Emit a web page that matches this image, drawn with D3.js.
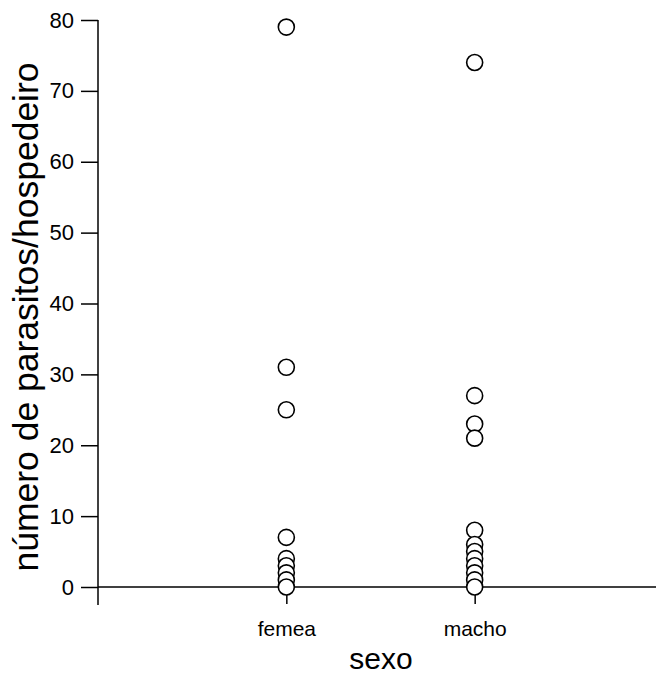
<!DOCTYPE html>
<html>
<head>
<meta charset="utf-8">
<script src="https://cdn.jsdelivr.net/npm/d3@7"></script>
<style>
html,body{margin:0;padding:0;background:#fff;}
svg{display:block;font-family:Arial,"Liberation Sans",sans-serif;}
</style>
</head>
<body>
<svg id="chart" width="656" height="677"></svg>
<script>
const categories = ["femea", "macho"];
const femeaValues = [79, 31, 25, 7, 4, 3, 2, 1, 0];
const machoValues = [74, 27, 23, 21, 8, 6, 5, 4, 3, 2, 1, 0];
const yTicks = [0, 10, 20, 30, 40, 50, 60, 70, 80];
const xLabel = "sexo";
const yLabel = "número de parasitos/hospedeiro";

const series = [femeaValues, machoValues];
const points = [];
series.forEach((vals, i) => vals.forEach(v => points.push({cat: i + 1, v})));

const svg = d3.select("#chart");
const x = d3.scaleLinear().domain([0, 3]).range([98, 663]);
const y = d3.scaleLinear().domain([0, 80]).range([587, 20]);
const FONT = "Arial, 'Liberation Sans', sans-serif";

// Y axis
const yAxis = d3.axisLeft(y).tickValues(yTicks).tickSize(17).tickPadding(7).tickSizeOuter(0);
const gy = svg.append("g").attr("transform", `translate(${x(0)},0)`).call(yAxis);
gy.select(".domain").remove();
gy.append("line").attr("x1", 0).attr("x2", 0).attr("y1", y(80)).attr("y2", y(0) + 18)
  .attr("stroke", "#000").attr("stroke-width", 1.5);
gy.selectAll(".tick line").attr("stroke", "#000").attr("stroke-width", 1.5);
gy.selectAll(".tick text").attr("fill", "#000").style("font-size", "22px").style("font-family", FONT);

// X axis
const xAxis = d3.axisBottom(x).tickValues([1, 2]).tickFormat(d => categories[d - 1])
  .tickSize(17).tickPadding(17).tickSizeOuter(0);
const gx = svg.append("g").attr("transform", `translate(0,${y(0)})`).call(xAxis);
gx.select(".domain").remove();
gx.append("line").attr("x1", x(0)).attr("x2", x(3)).attr("y1", 0).attr("y2", 0)
  .attr("stroke", "#000").attr("stroke-width", 1.5);
gx.selectAll(".tick line").attr("stroke", "#000").attr("stroke-width", 1.5);
gx.selectAll(".tick text").attr("fill", "#000").style("font-size", "21px").style("font-family", FONT);

// Points
svg.append("g").selectAll("circle").data(points).join("circle")
  .attr("cx", d => x(d.cat)).attr("cy", d => y(d.v)).attr("r", 8)
  .attr("fill", "#fff").attr("stroke", "#000").attr("stroke-width", 1.6);

// Axis titles
svg.append("text").attr("x", 381).attr("y", 669).attr("text-anchor", "middle")
  .style("font-size", "30px").style("font-family", FONT).attr("fill", "#000").text(xLabel);
svg.append("text").attr("transform", `translate(38,317) rotate(-90)`)
  .attr("text-anchor", "middle").style("font-size", "35.5px").style("font-family", FONT)
  .attr("fill", "#000").text(yLabel);
</script>
</body>
</html>
